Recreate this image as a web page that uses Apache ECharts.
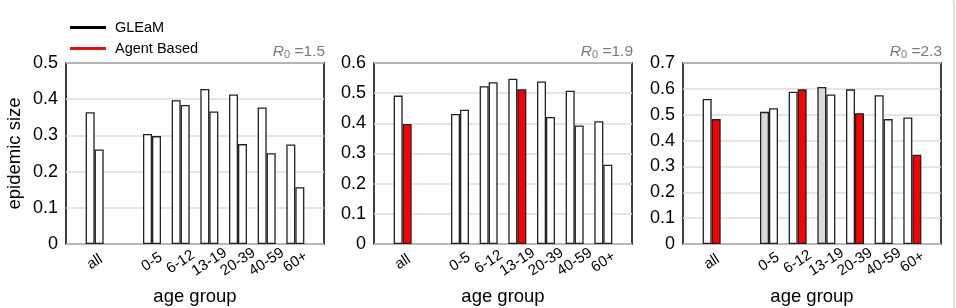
<!DOCTYPE html>
<html>
<head>
<meta charset="utf-8">
<script src="https://cdn.jsdelivr.net/npm/echarts@6/dist/echarts.min.js"></script>
<style>
  html, body { margin: 0; padding: 0; background: #fff; }
  #chart { width: 956px; height: 308px; }
</style>
</head>
<body>
<div id="chart"></div>
<script>
// age groups, "all" first
var groups = ['all', '0-5', '6-12', '13-19', '20-39', '40-59', '60+'];
var r0Labels = ['1.5', '1.9', '2.3'];
var yMax = [0.5, 0.6, 0.7];

// epidemic size per panel (R0 = 1.5, 1.9, 2.3)
var gleam15 = [0.364, 0.304, 0.397, 0.428, 0.413, 0.377, 0.275];
var agent15 = [0.261, 0.298, 0.384, 0.366, 0.276, 0.251, 0.157];
var gleam19 = [0.492, 0.431, 0.523, 0.548, 0.539, 0.508, 0.407];
var agent19 = [0.398, 0.445, 0.536, 0.513, 0.421, 0.393, 0.263];
var gleam23 = [0.561, 0.511, 0.589, 0.607, 0.598, 0.575, 0.489];
var agent23 = [0.483, 0.525, 0.598, 0.578, 0.506, 0.483, 0.345];

// marked bars (1 = highlighted)
var gleamMark15 = [0, 0, 0, 0, 0, 0, 0];
var agentMark15 = [0, 0, 0, 0, 0, 0, 0];
var gleamMark19 = [0, 0, 0, 0, 0, 0, 0];
var agentMark19 = [1, 0, 0, 1, 0, 0, 0];
var gleamMark23 = [0, 1, 0, 1, 0, 0, 0];
var agentMark23 = [1, 0, 1, 0, 1, 0, 1];

var gleamAll = [gleam15, gleam19, gleam23];
var agentAll = [agent15, agent19, agent23];
var gleamMarks = [gleamMark15, gleamMark19, gleamMark23];
var agentMarks = [agentMark15, agentMark19, agentMark23];

var lefts = [66, 374, 683];
var plotW = 258;
var FONT = 'Liberation Sans';

// axis slots: empty, all, empty, 0-5 ... 60+, empty
var axisCats = ['', groups[0], ''].concat(groups.slice(1)).concat(['']);

function toSlots(vals, marks, markColor) {
    var items = vals.map(function (v, i) {
        var it = { value: v };
        if (marks[i]) it.itemStyle = { color: markColor };
        return it;
    });
    return ['-', items[0], '-'].concat(items.slice(1)).concat(['-']);
}

var grids = [], xAxes = [], yAxes = [], series = [], titles = [];
for (var p = 0; p < 3; p++) {
    grids.push({
        left: lefts[p], width: plotW, top: 63, bottom: 64,
        outerBoundsMode: 'none', containLabel: false,
        show: true, borderColor: '#000', borderWidth: 1.5
    });
    xAxes.push({
        type: 'category', gridIndex: p, data: axisCats, boundaryGap: false,
        axisLine: { show: false }, axisTick: { show: false },
        axisLabel: { interval: 0, rotate: 33, fontSize: 15, color: '#000',
                     fontFamily: FONT, margin: 18, align: 'center', verticalAlign: 'middle' },
        name: 'age group', nameLocation: 'middle', nameGap: 43,
        nameTextStyle: { fontSize: 18.5, color: '#000', fontFamily: FONT }
    });
    yAxes.push({
        type: 'value', gridIndex: p, min: 0, max: yMax[p], interval: 0.1,
        axisLine: { show: false }, axisTick: { show: false },
        axisLabel: { fontSize: 18, color: '#000', fontFamily: FONT, margin: 8 },
        splitLine: { lineStyle: { color: '#dcdcdc', width: 1.5 } },
        name: p === 0 ? 'epidemic size' : '', nameLocation: 'middle', nameGap: 42,
        nameTextStyle: { fontSize: 18.5, color: '#000', fontFamily: FONT }
    });
    series.push({
        name: 'GLEaM', type: 'bar', xAxisIndex: p, yAxisIndex: p,
        barWidth: 9, barGap: '0%',
        itemStyle: { color: '#fff', borderColor: '#222', borderWidth: 1.3 },
        data: toSlots(gleamAll[p], gleamMarks[p], '#d9d9d9')
    });
    series.push({
        name: 'Agent Based', type: 'bar', xAxisIndex: p, yAxisIndex: p,
        barWidth: 9, barGap: '0%',
        itemStyle: { color: '#fff', borderColor: '#222', borderWidth: 1.3 },
        data: toSlots(agentAll[p], agentMarks[p], '#ff0000')
    });
    titles.push({
        text: '{r|R}{s|0}{n| =' + r0Labels[p] + '}',
        right: 956 - lefts[p] - plotW - 1, top: 41, padding: 0,
        textStyle: {
            fontWeight: 'normal',
            rich: {
                r: { fontSize: 15.5, fontStyle: 'italic', color: '#7a7a7a', fontFamily: FONT, fontWeight: 'normal', verticalAlign: 'bottom' },
                s: { fontSize: 11, color: '#7a7a7a', fontFamily: FONT, fontWeight: 'normal', padding: [8, 0, 0, 0], verticalAlign: 'bottom' },
                n: { fontSize: 15.5, color: '#7a7a7a', fontFamily: FONT, fontWeight: 'normal', verticalAlign: 'bottom' }
            }
        }
    });
}

var chart = echarts.init(document.getElementById('chart'));
chart.setOption({
    animation: false,
    title: titles,
    legend: {
        orient: 'vertical', left: 70, top: 20, itemGap: 6, padding: 0,
        icon: 'rect', itemWidth: 36, itemHeight: 3,
        textStyle: { fontSize: 14.5, color: '#000', fontFamily: FONT, padding: [0, 0, 0, 4] },
        data: [
            { name: 'GLEaM', itemStyle: { color: '#000', borderWidth: 0 } },
            { name: 'Agent Based', itemStyle: { color: '#e01010', borderWidth: 0 } }
        ]
    },
    grid: grids,
    xAxis: xAxes,
    yAxis: yAxes,
    series: series,
    graphic: [{
        type: 'rect', silent: true,
        shape: { x: -20, y: -8, width: 974, height: 400, r: 12 },
        style: { fill: 'none', stroke: '#c8c8c8', lineWidth: 1 }
    }]
});
</script>
</body>
</html>
